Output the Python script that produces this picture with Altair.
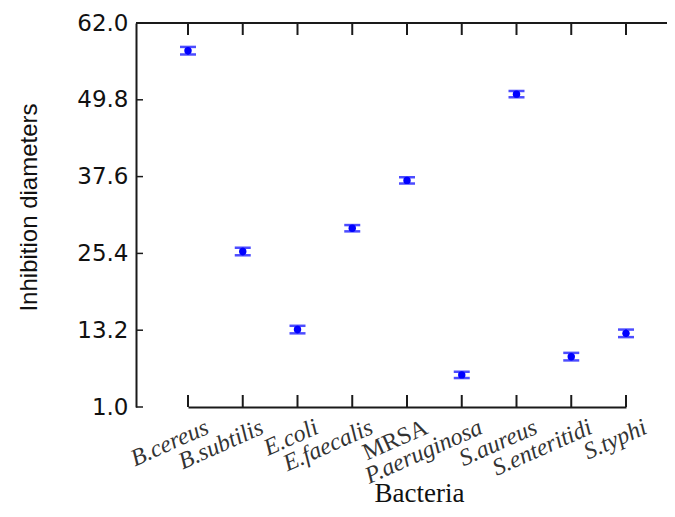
import altair as alt
import pandas as pd

bacteria = ["B.cereus", "B.subtilis", "E.coli", "E.faecalis", "MRSA",
            "P.aeruginosa", "S.aureus", "S.enteritidi", "S.typhi"]
diameters = [57.6, 25.7, 13.3, 29.4, 37.0, 6.1, 50.7, 9.0, 12.7]
errors = [0.6, 0.6, 0.6, 0.5, 0.5, 0.5, 0.5, 0.6, 0.6]
y_ticks = [1.0, 13.2, 25.4, 37.6, 49.8, 62.0]

df = pd.DataFrame({
    "b": bacteria,
    "d": diameters,
    "lo": [d - e for d, e in zip(diameters, errors)],
    "hi": [d + e for d, e in zip(diameters, errors)],
})
ticks_df = pd.DataFrame({"v": y_ticks})
one_df = pd.DataFrame({"a": [0]})

W, H = 531, 384
LINE = "#1a1a1a"

xaxis = alt.Axis(
    title="Bacteria", tickSize=0, labelPadding=8, labelAngle=-24, labelOffset=14,
    labelAlign="right", labelBaseline="top",
    labelFont="Liberation Serif", labelFontSize=24, labelColor="#333333",
    labelFontStyle=alt.ExprRef(expr="datum.value == 'MRSA' ? 'normal' : 'italic'"),
    domainColor=LINE, domainWidth=2,
    titleFont="Liberation Serif", titleFontSize=27, titleFontWeight="normal",
    titleColor="#111111", titleX=283, titleY=94, titleAlign="center",
    titleBaseline="alphabetic",
)
yaxis = alt.Axis(
    title="Inhibition diameters", values=y_ticks, format=".1f", tickSize=0,
    labelPadding=8, labelFont="DejaVu Sans", labelFontSize=23, labelColor="#111111",
    domainColor=LINE, domainWidth=2, grid=False,
    titleFont="Liberation Sans", titleFontSize=24, titleFontWeight="normal",
    titleColor="#111111", titleX=-107, titleY=184, titleAngle=-90,
    titleAlign="center", titleBaseline="middle",
)
xscale = alt.Scale(type="point", range=[52, 490], padding=0)
yscale = alt.Scale(domain=[1, 62], nice=False, zero=False)

xenc = alt.X("b:N", sort=bacteria, scale=xscale, axis=xaxis)


def yenc(field):
    return alt.Y(field, scale=yscale, axis=yaxis)


base = alt.Chart(df)

points = base.mark_point(filled=True, shape="circle", size=55, color="#0000ff", opacity=1).encode(
    x=xenc, y=yenc("d:Q"))
bars = base.mark_rule(color="#0000ff", strokeWidth=2).encode(
    x=xenc, y=yenc("lo:Q"), y2="hi:Q")
cap_lo = base.mark_tick(color="#0000ff", size=16, thickness=2.5, orient="horizontal").encode(
    x=xenc, y=yenc("lo:Q"))
cap_hi = base.mark_tick(color="#0000ff", size=16, thickness=2.5, orient="horizontal").encode(
    x=xenc, y=yenc("hi:Q"))

xt_bottom = base.mark_rule(color=LINE, strokeWidth=2).encode(
    x=xenc, y=alt.value(H), y2=alt.value(H - 12))
xt_top = base.mark_rule(color=LINE, strokeWidth=2).encode(
    x=xenc, y=alt.value(0), y2=alt.value(12))
top_line = alt.Chart(one_df).mark_rule(color=LINE, strokeWidth=2).encode(
    x=alt.value(0), x2=alt.value(W), y=alt.value(0))
yt = alt.Chart(ticks_df).mark_rule(color=LINE, strokeWidth=1.5).encode(
    y=yenc("v:Q"), x=alt.value(0), x2=alt.value(7))

chart = alt.layer(xt_bottom, xt_top, top_line, yt, bars, cap_lo, cap_hi, points).properties(
    width=W, height=H,
    autosize=alt.AutoSizeParams(type="none"),
    padding={"left": 128, "top": 15, "right": 0, "bottom": 102},
    background="white",
).configure_view(stroke=None)

chart.save("out.html", embed_options={"renderer": "svg", "actions": False})
